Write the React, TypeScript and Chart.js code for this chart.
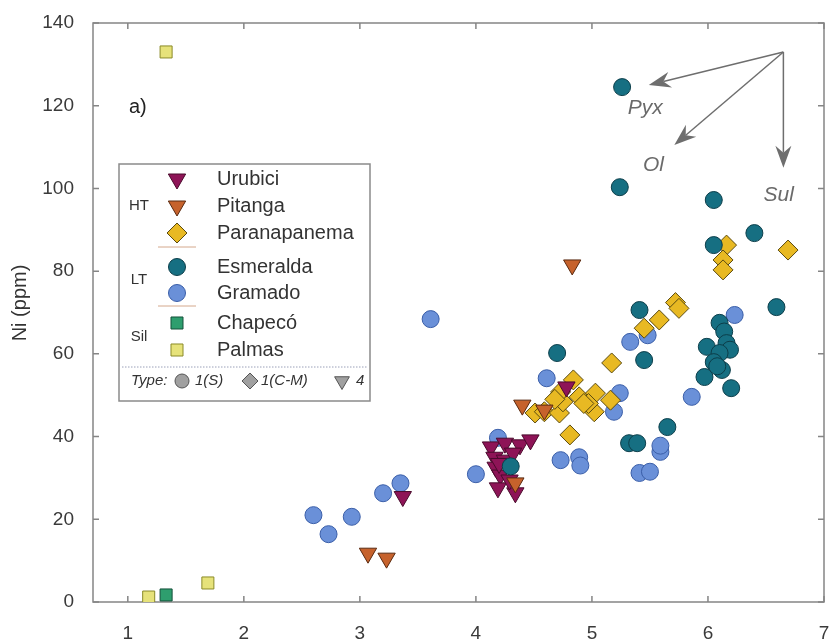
import React, { useEffect, useRef } from 'react';
import { Chart, registerables } from 'chart.js';

Chart.register(...registerables);

// ---------- data ----------
const xTicks = [1, 2, 3, 4, 5, 6, 7];
const yTicks = [0, 20, 40, 60, 80, 100, 120, 140];

const urubiciX = [3.37, 4.13, 4.25, 4.38, 4.47, 4.16, 4.17, 4.25, 4.21, 4.19, 4.34, 4.29, 4.32, 4.2, 4.78];
const urubiciY = [25.5, 37.5, 38.4, 38, 39.2, 35, 32.6, 34.3, 30.7, 27.6, 26.4, 29.5, 36, 33.5, 52];

const pitangaX = [3.07, 3.23, 4.83, 4.4, 4.59, 4.34];
const pitangaY = [11.8, 10.6, 81.5, 47.6, 46.4, 28.8];

const paranaX = [4.51, 4.59, 4.72, 4.75, 4.73, 4.84, 4.89, 5.03, 5.02, 4.97, 5.16, 4.81, 5.17, 5.45, 5.58, 5.72, 5.75, 6.16, 6.13, 6.13, 6.69, 4.93, 4.68];
const paranaY = [45.7, 46, 45.7, 48.4, 50.8, 53.7, 49.6, 50.5, 46, 48, 48.8, 40.4, 57.8, 66.2, 68.2, 72.4, 71, 86.3, 82.7, 80.3, 85.1, 48, 49];

const esmeraldaX = [5.26, 5.24, 6.05, 6.4, 6.05, 6.59, 5.41, 5.45, 4.7, 5.32, 5.39, 5.65, 6.2, 5.99, 6.1, 6.14, 6.16, 6.19, 6.1, 6.05, 6.12, 5.97, 6.08, 4.3];
const esmeraldaY = [124.5, 100.3, 97.2, 89.2, 86.3, 71.3, 70.6, 58.5, 60.2, 38.4, 38.4, 42.3, 51.7, 61.7, 67.5, 65.4, 62.6, 61, 60.2, 58, 56.1, 54.4, 57, 32.8];

const gramadoX = [2.6, 2.73, 2.93, 3.2, 3.35, 3.61, 4.0, 4.19, 4.61, 4.73, 4.89, 4.9, 5.19, 5.24, 5.33, 5.48, 5.41, 5.5, 5.59, 5.59, 5.86, 6.23];
const gramadoY = [21, 16.4, 20.6, 26.3, 28.7, 68.4, 30.9, 39.7, 54.1, 34.3, 35, 33, 46, 50.5, 62.9, 64.5, 31.2, 31.5, 36.3, 37.8, 49.6, 69.4];

const chapecoX = [1.33];
const chapecoY = [1.7];

const palmasX = [1.33, 1.18, 1.69];
const palmasY = [133, 1.2, 4.6];

const arrowOrigin = [6.65, 133];
const arrowLabels = ['Pyx', 'Ol', 'Sul'];
const arrowEndX = [5.49, 5.71, 6.65];
const arrowEndY = [125, 110.5, 105];
const arrowLabelX = [5.46, 5.53, 6.61];
const arrowLabelY = [119.4, 105.7, 98.4];

const legendNames = ['Urubici', 'Pitanga', 'Paranapanema', 'Esmeralda', 'Gramado', 'Chapecó', 'Palmas'];
const groupNames = ['HT', 'LT', 'Sil'];

// ---------- styles ----------
const FONT = '"Liberation Sans", Arial, Helvetica, sans-serif';
const series = [
  { name: 'Urubici', style: 'triangle', rot: 180, r: 10, fill: '#8e1457', edge: '#4a0a2c' },
  { name: 'Pitanga', style: 'triangle', rot: 180, r: 10, fill: '#c6622c', edge: '#5a2a10' },
  { name: 'Paranapanema', style: 'rectRot', rot: 0, r: 10, fill: '#e8b923', edge: '#5a4a10' },
  { name: 'Esmeralda', style: 'circle', rot: 0, r: 8.5, fill: '#166f82', edge: '#0c3e4a' },
  { name: 'Gramado', style: 'circle', rot: 0, r: 8.5, fill: '#6a90d8', edge: '#3a5ea8' },
  { name: 'Chapecó', style: 'rect', rot: 0, r: 8.5, fill: '#2e9e6e', edge: '#14503a' },
  { name: 'Palmas', style: 'rect', rot: 0, r: 8.5, fill: '#e6e27a', edge: '#8a8a28' },
];

function pts(xs: number[], ys: number[]) {
  return xs.map((x, i) => ({ x, y: ys[i] }));
}

function drawMarker(ctx: CanvasRenderingContext2D, style: string, x: number, y: number, r: number, fill: string, edge: string, rot = 0) {
  ctx.save();
  ctx.beginPath();
  if (style === 'circle') {
    ctx.arc(x, y, r, 0, Math.PI * 2);
  } else if (style === 'rect') {
    const s = Math.SQRT1_2 * r;
    ctx.rect(x - s, y - s, 2 * s, 2 * s);
  } else if (style === 'rectRot') {
    ctx.moveTo(x, y - r);
    ctx.lineTo(x + r, y);
    ctx.lineTo(x, y + r);
    ctx.lineTo(x - r, y);
    ctx.closePath();
  } else if (style === 'triangle') {
    let a = (rot * Math.PI) / 180;
    const s = r;
    ctx.moveTo(x + Math.sin(a) * s, y - Math.cos(a) * s);
    a += (2 * Math.PI) / 3;
    ctx.lineTo(x + Math.sin(a) * s, y - Math.cos(a) * s);
    a += (2 * Math.PI) / 3;
    ctx.lineTo(x + Math.sin(a) * s, y - Math.cos(a) * s);
    ctx.closePath();
  }
  ctx.fillStyle = fill;
  ctx.fill();
  ctx.lineWidth = 1;
  ctx.strokeStyle = edge;
  ctx.stroke();
  ctx.restore();
}

function drawArrow(ctx: CanvasRenderingContext2D, x0: number, y0: number, x1: number, y1: number) {
  const ang = Math.atan2(y1 - y0, x1 - x0);
  const L = 22, W = 8, N = 15;
  ctx.save();
  ctx.strokeStyle = '#6e6e6e';
  ctx.fillStyle = '#6e6e6e';
  ctx.lineWidth = 1.5;
  ctx.beginPath();
  ctx.moveTo(x0, y0);
  ctx.lineTo(x1 - Math.cos(ang) * N, y1 - Math.sin(ang) * N);
  ctx.stroke();
  const c = Math.cos(ang), s = Math.sin(ang);
  const bx = x1 - c * L, by = y1 - s * L;
  const nx = x1 - c * N, ny = y1 - s * N;
  ctx.beginPath();
  ctx.moveTo(x1, y1);
  ctx.lineTo(bx - s * W, by + c * W);
  ctx.lineTo(nx, ny);
  ctx.lineTo(bx + s * W, by - c * W);
  ctx.closePath();
  ctx.fill();
  ctx.restore();
}

const decorPlugin = {
  id: 'decor',
  beforeDatasetsDraw(chart: any) {
    const { ctx, chartArea: a, scales } = chart;
    ctx.save();
    ctx.strokeStyle = '#858585';
    ctx.lineWidth = 1.5;
    ctx.strokeRect(a.left, a.top, a.right - a.left, a.bottom - a.top);
    ctx.beginPath();
    xTicks.forEach((v) => {
      const px = scales.x.getPixelForValue(v);
      ctx.moveTo(px, a.bottom);
      ctx.lineTo(px, a.bottom - 6);
      ctx.moveTo(px, a.top);
      ctx.lineTo(px, a.top + 6);
    });
    yTicks.forEach((v) => {
      const py = scales.y.getPixelForValue(v);
      ctx.moveTo(a.left, py);
      ctx.lineTo(a.left + 6, py);
      ctx.moveTo(a.right, py);
      ctx.lineTo(a.right - 6, py);
    });
    ctx.stroke();
    // y title
    ctx.fillStyle = '#333';
    ctx.font = `20px ${FONT}`;
    ctx.textAlign = 'center';
    ctx.textBaseline = 'middle';
    ctx.translate(20, 303);
    ctx.rotate(-Math.PI / 2);
    ctx.fillText('Ni (ppm)', 0, 0);
    ctx.restore();
  },
  afterDatasetsDraw(chart: any) {
    const { ctx, scales } = chart;
    ctx.save();
    // panel label
    ctx.fillStyle = '#222';
    ctx.font = `20px ${FONT}`;
    ctx.textAlign = 'left';
    ctx.textBaseline = 'middle';
    ctx.fillText('a)', 129, 107);

    // arrows
    const ox = scales.x.getPixelForValue(arrowOrigin[0]);
    const oy = scales.y.getPixelForValue(arrowOrigin[1]);
    arrowLabels.forEach((lab, i) => {
      const ex = scales.x.getPixelForValue(arrowEndX[i]);
      const ey = scales.y.getPixelForValue(arrowEndY[i]);
      drawArrow(ctx, ox, oy, ex, ey);
      ctx.fillStyle = '#6a6a6a';
      ctx.font = `italic 21px ${FONT}`;
      ctx.textAlign = 'center';
      ctx.textBaseline = 'middle';
      ctx.fillText(lab, scales.x.getPixelForValue(arrowLabelX[i]), scales.y.getPixelForValue(arrowLabelY[i]));
    });

    // legend
    const bx = 119, by = 164, bw = 251, bh = 237;
    ctx.fillStyle = '#ffffff';
    ctx.fillRect(bx, by, bw, bh);
    ctx.strokeStyle = '#8a8a8a';
    ctx.lineWidth = 1.5;
    ctx.strokeRect(bx, by, bw, bh);
    const rowY = [179, 206, 233, 267, 293, 323, 350];
    series.forEach((s, i) => {
      drawMarker(ctx, s.style, 177, rowY[i], s.r, s.fill, s.edge, s.rot);
      ctx.fillStyle = '#333';
      ctx.font = `20px ${FONT}`;
      ctx.textAlign = 'left';
      ctx.textBaseline = 'middle';
      ctx.fillText(legendNames[i], 217, rowY[i]);
    });
    // group labels
    ctx.font = `15px ${FONT}`;
    ctx.fillStyle = '#333';
    ctx.textAlign = 'center';
    const groupY = [206, 280, 337];
    groupNames.forEach((g, i) => ctx.fillText(g, 139, groupY[i]));
    // separators
    ctx.strokeStyle = '#d4a88c';
    ctx.lineWidth = 1;
    ctx.beginPath();
    ctx.moveTo(158, 247);
    ctx.lineTo(196, 247);
    ctx.moveTo(158, 306);
    ctx.lineTo(196, 306);
    ctx.stroke();
    ctx.save();
    ctx.setLineDash([1.5, 1.5]);
    ctx.strokeStyle = '#9aa0b8';
    ctx.beginPath();
    ctx.moveTo(bx + 3, 367);
    ctx.lineTo(bx + bw - 3, 367);
    ctx.stroke();
    ctx.restore();
    // type row
    const ty = 381;
    ctx.fillStyle = '#333';
    ctx.font = `italic 15px ${FONT}`;
    ctx.textAlign = 'left';
    ctx.fillText('Type:', 131, ty);
    drawMarker(ctx, 'circle', 182, ty, 7, '#a0a0a0', '#555');
    ctx.fillStyle = '#333';
    ctx.fillText('1(S)', 195, ty);
    drawMarker(ctx, 'rectRot', 250, ty, 8, '#a0a0a0', '#555');
    ctx.fillStyle = '#333';
    ctx.fillText('1(C-M)', 261, ty);
    drawMarker(ctx, 'triangle', 342, ty, 8.5, '#a0a0a0', '#555', 180);
    ctx.fillStyle = '#333';
    ctx.fillText('4', 356, ty);
    ctx.restore();
  },
};

const xs = [urubiciX, pitangaX, paranaX, esmeraldaX, gramadoX, chapecoX, palmasX];
const ys = [urubiciY, pitangaY, paranaY, esmeraldaY, gramadoY, chapecoY, palmasY];
// draw order: lower "order" is drawn on top
const drawOrder = [2, 1, 3, 0, 4, 5, 6];

export default function App() {
  const ref = useRef<HTMLCanvasElement>(null);
  useEffect(() => {
    if (!ref.current) return;
    const datasets = series.map((s, i) => ({
      label: s.name,
      data: pts(xs[i], ys[i]),
      pointStyle: s.style,
      pointRotation: s.rot,
      pointRadius: s.r,
      pointHoverRadius: s.r,
      backgroundColor: s.fill,
      borderColor: s.edge,
      pointBorderWidth: 1,
      borderWidth: 1,
      showLine: false,
      order: drawOrder[i],
    }));
    const chart = new Chart(ref.current, {
      type: 'scatter',
      data: { datasets: datasets as any },
      options: {
        responsive: false,
        animation: false,
        devicePixelRatio: 1,
        events: [],
        layout: { padding: { top: 23, right: 6, left: 0, bottom: 0 } },
        plugins: { legend: { display: false }, tooltip: { enabled: false } },
        scales: {
          x: {
            type: 'linear',
            min: 0.7,
            max: 7,
            afterBuildTicks: (sc: any) => { sc.ticks = xTicks.map((v) => ({ value: v })); },
            afterFit: (sc: any) => {
              sc.height = 37;
              sc.paddingLeft = 0;
              sc.paddingRight = 0;
              sc.paddingTop = 0;
              sc.paddingBottom = 0;
            },
            grid: { display: false },
            border: { display: false },
            ticks: { color: '#3a3a3a', font: { family: FONT, size: 19 }, padding: 12, maxRotation: 0 },
          },
          y: {
            type: 'linear',
            min: 0,
            max: 140,
            afterBuildTicks: (sc: any) => { sc.ticks = yTicks.map((v) => ({ value: v })); },
            afterFit: (sc: any) => {
              sc.width = 93;
              sc.paddingLeft = 0;
              sc.paddingRight = 0;
              sc.paddingTop = 0;
              sc.paddingBottom = 0;
            },
            grid: { display: false },
            border: { display: false },
            ticks: { color: '#3a3a3a', font: { family: FONT, size: 19 }, padding: 11 },
          },
        },
      },
      plugins: [decorPlugin],
    });
    return () => chart.destroy();
  }, []);
  return (
    <div style={{ position: 'absolute', left: 0, top: 0, width: 835, height: 639, background: '#fff' }}>
      <canvas ref={ref} width={835} height={639} />
    </div>
  );
}
